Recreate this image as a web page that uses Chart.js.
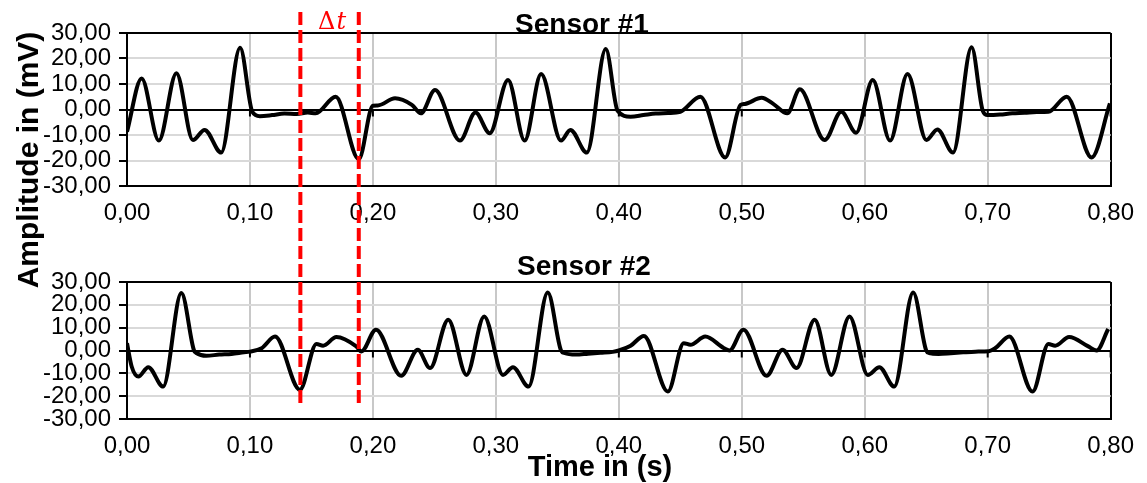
<!DOCTYPE html>
<html><head><meta charset="utf-8">
<script src="https://cdn.jsdelivr.net/npm/chart.js@4/dist/chart.umd.min.js"></script>
<style>
html,body{margin:0;padding:0;background:#fff;}
#wrap{position:relative;width:1147px;height:483px;background:#fff;}
#wrap canvas{position:absolute;left:0;top:0;}
</style></head><body>
<div id="wrap">
<canvas id="c1" width="1147" height="483"></canvas>
<canvas id="c2" width="1147" height="483"></canvas>
</div>
<script>
// ---------- data ----------
const s1Time = [0.000,0.0119,0.0259,0.0402,0.0536,0.0631,0.0766,0.092,0.102,0.108,0.118,0.128,0.138,0.147,0.1535,0.1697,0.1885,0.200,0.204,0.218,0.2317,0.239,0.2505,0.2708,0.2834,0.295,0.3099,0.3234,0.3368,0.353,0.3606,0.374,0.3894,0.399,0.4096,0.42,0.43,0.44,0.45,0.4663,0.4865,0.499,0.5025,0.5162,0.5256,0.537,0.5472,0.5674,0.5809,0.593,0.6065,0.6206,0.6348,0.6502,0.6591,0.6718,0.6869,0.696,0.70,0.71,0.72,0.73,0.74,0.7494,0.7643,0.7845,0.7994];
const s1Amp  = [-8.7,12.2,-12.2,14.2,-12.0,-8.0,-16.9,24.2,-1.0,-2.6,-2.2,-1.6,-1.8,-1.2,-1.5,5.0,-19.5,1.5,1.6,4.4,1.8,-1.5,7.6,-12.2,-1.2,-9.3,11.6,-12.2,13.9,-12.2,-8.0,-16.9,23.7,-0.5,-2.8,-2.2,-1.6,-1.4,-0.9,5.0,-18.8,1.8,2.2,4.6,2.2,-1.5,7.9,-12.0,-0.9,-9.1,11.6,-12.2,13.9,-12.0,-7.8,-16.9,24.4,-0.5,-2.2,-2.0,-1.5,-1.3,-1.0,-0.9,5.0,-18.8,2.4];
const s2Time = [0.000,0.0038,0.0092,0.0173,0.0294,0.0442,0.0545,0.0564,0.0645,0.075,0.085,0.095,0.100,0.1095,0.1204,0.1406,0.1541,0.1595,0.1703,0.1865,0.1906,0.2025,0.223,0.2365,0.2465,0.2613,0.2761,0.2905,0.3058,0.3139,0.3266,0.3422,0.353,0.3557,0.365,0.375,0.385,0.395,0.400,0.4096,0.4204,0.4399,0.4528,0.4582,0.4703,0.4852,0.490,0.5013,0.5202,0.5332,0.5445,0.5593,0.5728,0.5876,0.6025,0.6119,0.624,0.6394,0.650,0.6524,0.660,0.670,0.680,0.690,0.701,0.7063,0.7176,0.7365,0.7494,0.7549,0.7662,0.7818,0.7886,0.798];
const s2Amp  = [3.2,-7.0,-11.4,-7.3,-15.8,25.2,0.0,-1.1,-2.3,-1.8,-1.5,-0.8,-0.5,1.0,6.1,-17.2,2.9,2.1,5.9,1.8,-0.4,9.1,-11.1,0.3,-7.7,13.5,-10.7,14.9,-10.7,-7.3,-15.8,25.4,0.0,-1.1,-1.8,-1.4,-1.0,-0.6,0.0,2.1,6.4,-18.0,3.2,2.5,6.1,1.1,0.0,9.1,-11.1,0.3,-7.7,13.5,-10.7,14.9,-10.7,-7.3,-15.8,25.4,0.0,-1.1,-1.5,-1.2,-0.8,-0.5,-0.3,1.1,6.1,-18.0,2.9,2.1,5.9,1.8,0.0,9.4];
const xTickValues = [0,0.1,0.2,0.3,0.4,0.5,0.6,0.7,0.8];
const yTickValues = [-30,-20,-10,0,10,20,30];
const deltaMarkers = [0.141,0.1885];
const sensorTitles = ['Sensor #1','Sensor #2'];
const yAxisTitle = 'Amplitude in (mV)';
const xAxisTitle = 'Time in (s)';
const deltaLabel = ['\u0394','t'];

// ---------- styling / helpers ----------
const FONT = "'Liberation Sans', Arial, sans-serif";
Chart.defaults.font.family = FONT;
Chart.defaults.color = '#000';
const fmt = v => Number(v).toFixed(2).replace('.', ',');
const near = (a,b) => Math.abs(a-b) < 1e-9;

const zeroTicks = {
  id:'zeroTicks',
  afterDatasetsDraw(chart){
    const ctx = chart.ctx, xs = chart.scales.x, ys = chart.scales.y;
    const y0 = ys.getPixelForValue(0);
    ctx.save();
    ctx.strokeStyle = '#000'; ctx.lineWidth = 2;
    xTickValues.forEach(v=>{
      const x = xs.getPixelForValue(v);
      ctx.beginPath(); ctx.moveTo(x, y0); ctx.lineTo(x, y0+7); ctx.stroke();
    });
    ctx.restore();
  }
};

const overlay = {
  id:'overlay',
  afterDraw(chart){
    const ctx = chart.ctx, xs = chart.scales.x;
    ctx.save();
    // red dashed delta-t lines
    ctx.strokeStyle = '#ff0000'; ctx.lineWidth = 4; ctx.setLineDash([13,5]);
    deltaMarkers.forEach(t=>{
      const x = xs.getPixelForValue(t);
      ctx.beginPath(); ctx.moveTo(x, 12); ctx.lineTo(x, 403); ctx.stroke();
    });
    ctx.setLineDash([]);
    // delta t label
    ctx.fillStyle = '#ff0000';
    ctx.textBaseline = 'alphabetic';
    ctx.textAlign = 'left';
    ctx.font = "24px 'DejaVu Serif', serif";
    const dw = ctx.measureText(deltaLabel[0]).width;
    ctx.font = "italic 24px 'DejaVu Serif', serif";
    const tw = ctx.measureText(deltaLabel[1]).width;
    const cx = (xs.getPixelForValue(deltaMarkers[0]) + xs.getPixelForValue(deltaMarkers[1]))/2 + 2;
    const sx = cx - (dw+tw)/2;
    ctx.font = "24px 'DejaVu Serif', serif";
    ctx.fillText(deltaLabel[0], sx, 29);
    ctx.font = "italic 24px 'DejaVu Serif', serif";
    ctx.fillText(deltaLabel[1], sx+dw+1, 29);
    // titles
    ctx.fillStyle = '#000';
    ctx.textAlign = 'center';
    ctx.font = "bold 28px " + FONT;
    ctx.fillText(sensorTitles[0], 582, 33);
    ctx.fillText(sensorTitles[1], 584, 275);
    ctx.font = "bold 29px " + FONT;
    ctx.fillText(xAxisTitle, 600, 476);
    ctx.save();
    ctx.translate(38, 160);
    ctx.rotate(-Math.PI/2);
    ctx.font = "bold 30px " + FONT;
    ctx.textBaseline = 'alphabetic';
    ctx.fillText(yAxisTitle, 0, 0);
    ctx.restore();
    ctx.restore();
  }
};

function makeChart(id, time, amp, padTop, padBottom, extra){
  return new Chart(document.getElementById(id), {
    type:'line',
    data:{datasets:[{
      data: time.map((t,i)=>({x:t, y:amp[i]})),
      borderColor:'#000', borderWidth:4, pointRadius:0,
      cubicInterpolationMode:'monotone', fill:false
    }]},
    options:{
      responsive:false, animation:false, events:[],
      layout:{padding:{top:padTop, bottom:padBottom, left:0, right:31}},
      plugins:{legend:{display:false}, tooltip:{enabled:false}, title:{display:false}},
      scales:{
        x:{
          type:'linear', min:0, max:0.8,
          afterBuildTicks: s => { s.ticks = xTickValues.map(v=>({value:v})); },
          afterFit: s => { s.height = 50; },
          ticks:{callback: v => fmt(v), padding:13, maxRotation:0, autoSkip:false, color:'#000', font:{size:24}},
          grid:{drawTicks:false, lineWidth:2,
            color: c => (near(c.tick.value,0) || near(c.tick.value,0.8)) ? '#000' : '#c8c8c8'},
          border:{color:'#000', width:2}
        },
        y:{
          min:-30, max:30,
          afterBuildTicks: s => { s.ticks = yTickValues.map(v=>({value:v})); },
          afterFit: s => { s.width = 127; },
          ticks:{callback: v => fmt(v), padding:8, autoSkip:false, color:'#000', font:{size:24}},
          grid:{lineWidth:2, tickLength:8, tickColor:'#000', tickWidth:2,
            color: c => (c.tick.value===0 || c.tick.value===30 || c.tick.value===-30) ? '#000' : '#d9d9d9'},
          border:{color:'#000', width:2}
        }
      }
    },
    plugins: extra
  });
}

makeChart('c1', s1Time, s1Amp, 33, 483-186-50, [zeroTicks]);
makeChart('c2', s2Time, s2Amp, 282, 483-419-50, [zeroTicks, overlay]);
</script>
</body></html>
